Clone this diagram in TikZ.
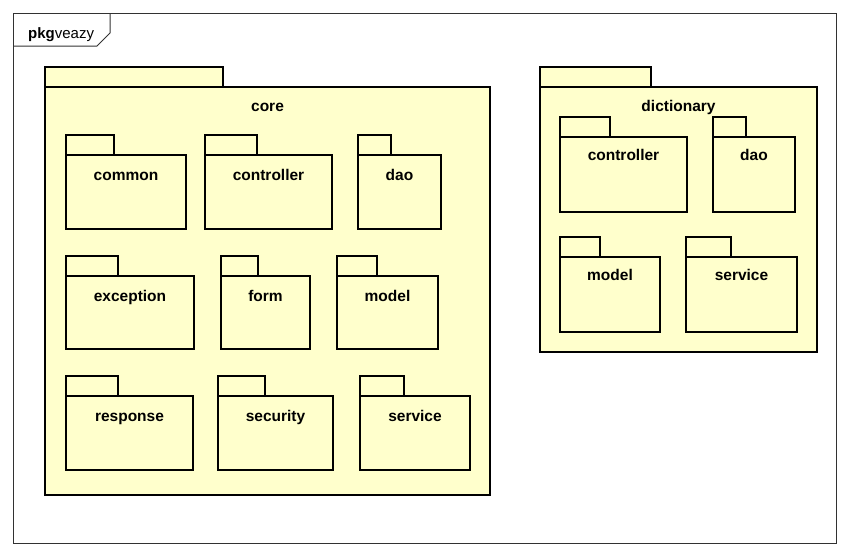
\documentclass[tikz,border=0pt]{standalone}
\usepackage{fontspec}
\setmainfont{Liberation Sans}
\usetikzlibrary{positioning}
\definecolor{pkgyellow}{RGB}{255,255,204}
\definecolor{framegray}{RGB}{50,50,50}

\begin{document}
\begin{tikzpicture}[x=1pt, y=-1pt,
    pkgbody/.style={rectangle, draw=black, fill=pkgyellow, line width=2.8pt, outer sep=0pt, inner sep=0pt, anchor=north west},
    pkgtab/.style={pkgbody, anchor=south west, minimum height=20pt},
    pkglabel/.style={font=\fontsize{15.5}{18}\selectfont\bfseries, inner sep=0pt},
    pkgframe/.style={rectangle, draw=framegray, line width=1pt, outer sep=0pt, inner sep=0pt, anchor=north west}
]
    \useasboundingbox (0,0) rectangle (849,557);

    % outer frame
    \node[pkgframe, minimum width=823pt, minimum height=530pt] (frame) at (13,13) {};
    \draw[framegray, line width=1pt] (110,13) -- (110,33) -- (97,46) -- (13,46);
    \node[font=\fontsize{15}{18}\selectfont, inner sep=0pt, anchor=base west] (frame-label) at (28,38) {\textbf{pkg}veazy};

    % core
    \node[pkgtab, minimum width=178pt] (core-tab) at (45,87) {};
    \node[pkgbody, minimum width=445pt, minimum height=408pt] (core) at (45,87) {};
    \node[pkglabel, below=24pt of core.north, anchor=base] (core-label) {core};

    \node[pkgtab, minimum width=48pt] (core-common-tab) at (66,155) {};
    \node[pkgbody, minimum width=120pt, minimum height=74pt] (core-common) at (66,155) {};
    \node[pkglabel, below=25pt of core-common.north, anchor=base] (core-common-label) {common};

    \node[pkgtab, minimum width=52pt] (core-controller-tab) at (205,155) {};
    \node[pkgbody, minimum width=127pt, minimum height=74pt] (core-controller) at (205,155) {};
    \node[pkglabel, below=25pt of core-controller.north, anchor=base] (core-controller-label) {controller};

    \node[pkgtab, minimum width=33pt] (core-dao-tab) at (358,155) {};
    \node[pkgbody, minimum width=83pt, minimum height=74pt] (core-dao) at (358,155) {};
    \node[pkglabel, below=25pt of core-dao.north, anchor=base] (core-dao-label) {dao};

    \node[pkgtab, minimum width=52pt] (core-exception-tab) at (66,276) {};
    \node[pkgbody, minimum width=128pt, minimum height=73pt] (core-exception) at (66,276) {};
    \node[pkglabel, below=25pt of core-exception.north, anchor=base] (core-exception-label) {exception};

    \node[pkgtab, minimum width=37pt] (core-form-tab) at (221,276) {};
    \node[pkgbody, minimum width=89pt, minimum height=73pt] (core-form) at (221,276) {};
    \node[pkglabel, below=25pt of core-form.north, anchor=base] (core-form-label) {form};

    \node[pkgtab, minimum width=40pt] (core-model-tab) at (337,276) {};
    \node[pkgbody, minimum width=101pt, minimum height=73pt] (core-model) at (337,276) {};
    \node[pkglabel, below=25pt of core-model.north, anchor=base] (core-model-label) {model};

    \node[pkgtab, minimum width=52pt] (core-response-tab) at (66,396) {};
    \node[pkgbody, minimum width=127pt, minimum height=74pt] (core-response) at (66,396) {};
    \node[pkglabel, below=25pt of core-response.north, anchor=base] (core-response-label) {response};

    \node[pkgtab, minimum width=47pt] (core-security-tab) at (218,396) {};
    \node[pkgbody, minimum width=115pt, minimum height=74pt] (core-security) at (218,396) {};
    \node[pkglabel, below=25pt of core-security.north, anchor=base] (core-security-label) {security};

    \node[pkgtab, minimum width=44pt] (core-service-tab) at (360,396) {};
    \node[pkgbody, minimum width=110pt, minimum height=74pt] (core-service) at (360,396) {};
    \node[pkglabel, below=25pt of core-service.north, anchor=base] (core-service-label) {service};

    % dictionary
    \node[pkgtab, minimum width=111pt] (dict-tab) at (540,87) {};
    \node[pkgbody, minimum width=277pt, minimum height=265pt] (dict) at (540,87) {};
    \node[pkglabel, below=24pt of dict.north, anchor=base] (dict-label) {dictionary};

    \node[pkgtab, minimum width=50pt] (dict-controller-tab) at (560,137) {};
    \node[pkgbody, minimum width=127pt, minimum height=75pt] (dict-controller) at (560,137) {};
    \node[pkglabel, below=23pt of dict-controller.north, anchor=base] (dict-controller-label) {controller};

    \node[pkgtab, minimum width=33pt] (dict-dao-tab) at (713,137) {};
    \node[pkgbody, minimum width=82pt, minimum height=75pt] (dict-dao) at (713,137) {};
    \node[pkglabel, below=23pt of dict-dao.north, anchor=base] (dict-dao-label) {dao};

    \node[pkgtab, minimum width=40pt] (dict-model-tab) at (560,257) {};
    \node[pkgbody, minimum width=100pt, minimum height=75pt] (dict-model) at (560,257) {};
    \node[pkglabel, below=23pt of dict-model.north, anchor=base] (dict-model-label) {model};

    \node[pkgtab, minimum width=45pt] (dict-service-tab) at (686,257) {};
    \node[pkgbody, minimum width=111pt, minimum height=75pt] (dict-service) at (686,257) {};
    \node[pkglabel, below=23pt of dict-service.north, anchor=base] (dict-service-label) {service};
\end{tikzpicture}
\end{document}
